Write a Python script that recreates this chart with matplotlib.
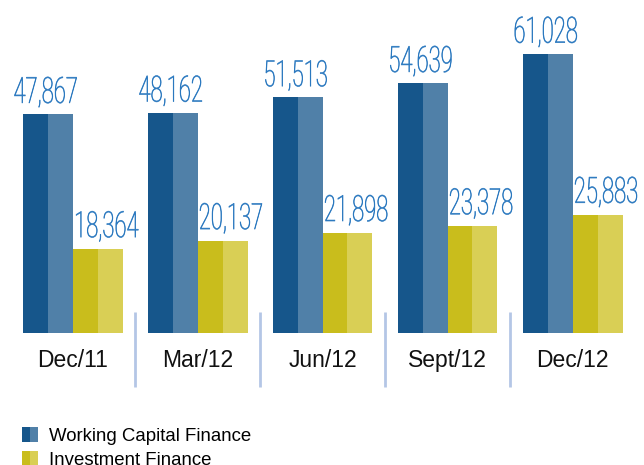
import matplotlib
matplotlib.use("Agg")
import matplotlib.pyplot as plt
import numpy as np
from matplotlib.patches import Patch
from matplotlib.legend_handler import HandlerTuple
from matplotlib.patheffects import AbstractPathEffect
from matplotlib.transforms import Affine2D

categories = ["Dec/11", "Mar/12", "Jun/12", "Sept/12", "Dec/12"]
working_capital = [47867, 48162, 51513, 54639, 61028]
investment = [18364, 20137, 21898, 23378, 25883]
series_names = ["Working Capital Finance", "Investment Finance"]

BLUE_DARK, BLUE_LIGHT = "#16568b", "#5080a8"
YEL_DARK, YEL_LIGHT = "#c9bd1c", "#d9cf55"
LABEL_BLUE = "#2a78bf"
SEP_COLOR = "#b4c6e6"


class HStretch(AbstractPathEffect):
    """Condense glyphs horizontally about the text's centre, with a thin outline."""
    def __init__(self, sx, lw=0.0):
        super().__init__()
        self.sx = sx
        self.lw = lw

    def draw_path(self, renderer, gc, tpath, affine, rgbFace=None):
        v = tpath.vertices
        c = (v[:, 0].min() + v[:, 0].max()) / 2 if len(v) else 0
        t = Affine2D().translate(-c, 0).scale(self.sx, 1).translate(c, 0) + affine
        gc0 = renderer.new_gc()
        gc0.copy_properties(gc)
        if self.lw > 0 and rgbFace is not None:
            gc0.set_linewidth(self.lw)
            gc0.set_foreground(rgbFace)
        renderer.draw_path(gc0, tpath, t, rgbFace)
        gc0.restore()


W, H = 644, 465
fig = plt.figure(figsize=(W / 100, H / 100), dpi=100)
base_px = 333
ax = fig.add_axes([0, (H - base_px) / H, 1, base_px / H])
px_per_unit = 219 / 47867
ax.set_ylim(0, base_px / px_per_unit)
ax.set_xlim(-72.5 / 125, (W - 72.5) / 125)
ax.axis("off")

x = np.arange(len(categories))
hw = 0.2
ax.bar(x - 0.3, working_capital, width=hw, color=BLUE_DARK, linewidth=0)
ax.bar(x - 0.1, working_capital, width=hw, color=BLUE_LIGHT, linewidth=0)
ax.bar(x + 0.1, investment, width=hw, color=YEL_DARK, linewidth=0)
ax.bar(x + 0.3, investment, width=hw, color=YEL_LIGHT, linewidth=0)

num_font = dict(family=["Roboto", "DejaVu Sans"], weight="light", fontsize=26,
                color=LABEL_BLUE, ha="center", va="baseline")
for xi, v in zip(x, working_capital):
    ax.annotate(f"{v:,}", (xi - 0.2, v), xytext=(-1.0, 8), textcoords="offset points",
                path_effects=[HStretch(0.61, 0.45)], annotation_clip=False, **num_font)
for xi, v in zip(x, investment):
    ax.annotate(f"{v:,}", (xi + 0.2, v), xytext=(6.5, 8.5), textcoords="offset points",
                path_effects=[HStretch(0.61, 0.45)], annotation_clip=False, **num_font)

cat_y = (base_px - 367) / base_px
for xi, c in zip(x, categories):
    ax.text(xi, cat_y, c, transform=ax.get_xaxis_transform(), ha="center",
            va="baseline", fontsize=16.5, family="Liberation Sans", color="#111111")

sep_top = (base_px - 312) / base_px
sep_bot = (base_px - 387) / base_px
for xs in x[:-1] + 0.5:
    ax.plot([xs, xs], [sep_bot, sep_top], transform=ax.get_xaxis_transform(),
            color=SEP_COLOR, lw=2, clip_on=False, solid_capstyle="butt")

handles = [(Patch(color=BLUE_DARK, lw=0), Patch(color=BLUE_LIGHT, lw=0)),
           (Patch(color=YEL_DARK, lw=0), Patch(color=YEL_LIGHT, lw=0))]
fig.legend(handles, series_names, handler_map={tuple: HandlerTuple(ndivide=None, pad=0)},
           loc="upper left", bbox_to_anchor=(22 / W, 1 - 427 / H), frameon=False,
           prop=dict(family="Liberation Sans", size=13.4), handlelength=0.88,
           handleheight=0.88, handletextpad=0.55, labelspacing=0.3,
           borderpad=0, borderaxespad=0)

fig.savefig("out.png", dpi=100)
